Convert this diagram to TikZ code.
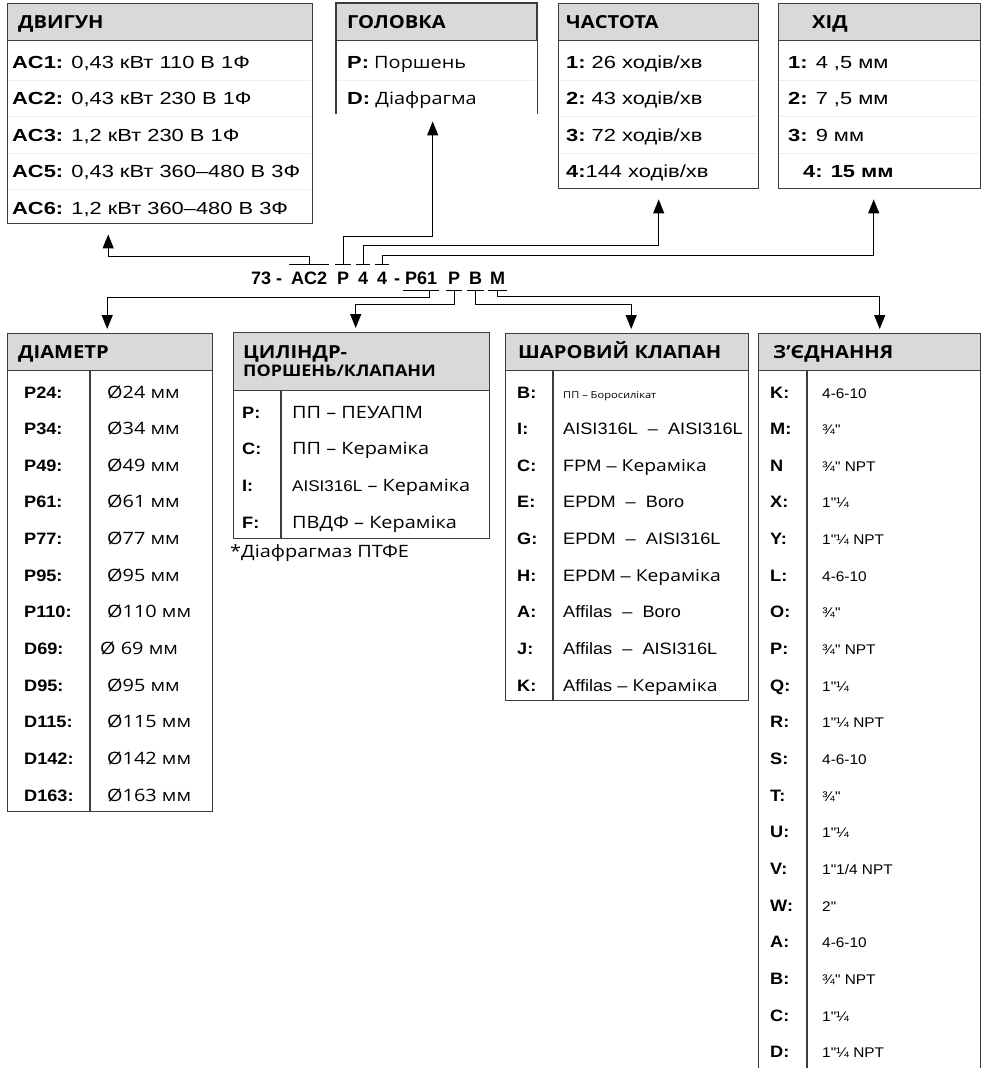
\documentclass[tikz,border=0pt]{standalone}
\usepackage{fontspec}
\setmainfont{Liberation Sans}
\newfontfamily\tsans[FakeStretch=1.25]{Liberation Sans}
\newfontfamily\bsans[FakeStretch=1.1]{Liberation Sans}
\newfontfamily\osans[FakeStretch=1.17]{Open Sans}
\newfontfamily\hsans[FakeStretch=1.12]{Open Sans}
\usetikzlibrary{arrows.meta,calc,positioning}
\definecolor{framegray}{HTML}{3C3C3C}
\definecolor{headgray}{HTML}{D9D9D9}
\definecolor{rulegray}{HTML}{EEEEEE}
\newcommand{\hdfont}{\hsans\bfseries\fontsize{18}{19}\selectfont}
\newcommand{\topkey}{\tsans\bfseries\fontsize{17.5}{20}\selectfont}
\newcommand{\topval}{\tsans\fontsize{17.5}{20}\selectfont}
\newcommand{\osval}{\osans\fontsize{17}{20}\selectfont}
\newcommand{\botkey}{\bsans\bfseries\fontsize{16.5}{19}\selectfont}
\newcommand{\botval}{\bsans\fontsize{16.5}{19}\selectfont}
\newcommand{\connval}{\bsans\fontsize{14}{16}\selectfont}
\newcommand{\codefont}{\bfseries\fontsize{18}{20}\selectfont}
\tikzset{
  boxline/.style={draw=framegray, line width=1.4pt},
  panel/.style={boxline, fill=white, anchor=north west, inner sep=0pt},
  headcell/.style={boxline, fill=headgray, anchor=north west, inner sep=0pt, minimum height=37},
  headtext/.style={anchor=base west, inner sep=0pt, font=\hdfont},
  toprow/.style={anchor=base west, inner sep=0pt, font=\topval},
  osrow/.style={anchor=base west, inner sep=0pt, font=\osval},
  keytext/.style={anchor=base west, inner sep=0pt, font=\botkey},
  valtext/.style={anchor=base west, inner sep=0pt, font=\botval},
  conntext/.style={anchor=base west, inner sep=0pt, font=\connval},
  codepart/.style={anchor=base west, inner xsep=2pt, inner ysep=6pt, text height=13pt, text depth=0pt, font=\codefont},
  bracket/.style={draw=black, line width=1.2pt},
  link/.style={draw=black, line width=1.2pt, -{Triangle[width=11pt,length=14pt]}},
  rowrule/.style={draw=rulegray, line width=0.6pt}
}
\begin{document}
\begin{tikzpicture}[x=1pt,y=-1pt]
  \useasboundingbox (0,0) rectangle (982,1068);
  % top panels
  \node[panel, minimum width=305, minimum height=220] (motor) at (7,3) {};
  \node[headcell, minimum width=305] (motorhd) at (motor.north west) {};
  \node[headtext] (motorti) at (18,28) {ДВИГУН};
  \foreach \y in {80,116.5,153,189.5} \draw[rowrule] (8,\y) -- (311,\y);
  \foreach \k/\v [count=\i from 0] in {AC1:/{0,43 кВт 110 В 1Ф}, AC2:/{0,43 кВт 230 В 1Ф}, AC3:/{1,2 кВт 230 В 1Ф}, AC5:/{0,43 кВт 360–480 В 3Ф}, AC6:/{1,2 кВт 360–480 В 3Ф}}
    \node[toprow] (motor\i) at (12,{68+36.5*\i}) {{\topkey\k} \v};

  \node[panel, draw=none, minimum width=200, minimum height=110] (head) at (336,3) {};
  \draw[boxline] (head.south west) -- (head.north west) -- (head.north east) -- (head.south east);
  \node[headcell, minimum width=200] (headhd) at (head.north west) {};
  \node[headtext] (headti) at (347,28) {ГОЛОВКА};
  \draw[rowrule] (337,80) -- (535,80);
  \foreach \k/\v [count=\i from 0] in {P:/Поршень, D:/Діафрагма}
    \node[osrow] (head\i) at (347,{68+36.5*\i}) {{\topkey\k} \v};

  \node[panel, minimum width=200, minimum height=185] (freq) at (558,3) {};
  \node[headcell, minimum width=200] (freqhd) at (freq.north west) {};
  \node[headtext] (freqti) at (566,28) {ЧАСТОТА};
  \foreach \y in {80,116.5,153} \draw[rowrule] (559,\y) -- (757,\y);
  \foreach \k/\v [count=\i from 0] in {1:/{\ 26 ходів/хв}, 2:/{\ 43 ходів/хв}, 3:/{\ 72 ходів/хв}, 4:/{144 ходів/хв}}
    \node[toprow] (freq\i) at (566,{68+36.5*\i}) {{\topkey\k}\v};

  \node[panel, minimum width=202, minimum height=185] (stroke) at (778,3) {};
  \node[headcell, minimum width=202] (strokehd) at (stroke.north west) {};
  \node[headtext] (strketi) at (812,28) {ХІД};
  \foreach \y in {80,116.5,153} \draw[rowrule] (779,\y) -- (979,\y);
  \foreach \k/\v [count=\i from 0] in {1:/{4 ,5 мм}, 2:/{7 ,5 мм}, 3:/{9 мм}}
    \node[toprow] (stroke\i) at (788,{68+36.5*\i}) {{\topkey\k} \v};
  \node[toprow, font=\topkey] (stroke3) at (803,177.5) {4: 15 мм};

  % code line
  \node[codepart, inner xsep=0pt] (cNum) at (251,284) {73 -};
  \node[codepart] (cMot) at (289,284) {AC2};
  \node[codepart] (cHead) at (335,284) {P};
  \node[codepart] (cFreq) at (356,284) {4};
  \node[codepart] (cStrk) at (375,284) {4};
  \node[codepart] (cDash) at (392,284) {-};
  \node[codepart] (cDiam) at (403,284) {P61};
  \node[codepart] (cCyl) at (446,284) {P};
  \node[codepart] (cValv) at (467,284) {B};
  \node[codepart] (cConn) at (488,284) {M};
  \foreach \n in {cMot,cHead,cFreq,cStrk} \draw[bracket] (\n.north west) -- (\n.north east);
  \foreach \n in {cDiam,cCyl,cValv,cConn} \draw[bracket] (\n.south west) -- (\n.south east);

  % bottom panels
  \node[panel, minimum width=205, minimum height=478] (diam) at (7,333) {};
  \node[headcell, minimum width=205] (diamhd) at (diam.north west) {};
  \node[headtext] (diamti) at (18,358) {ДІАМЕТР};
  \draw[boxline] ([xshift=83]diamhd.south west) -- ([xshift=83]diam.south west);
  \foreach \k/\v [count=\i from 0] in {P24:/Ø24 мм, P34:/Ø34 мм, P49:/Ø49 мм, P61:/Ø61 мм, P77:/Ø77 мм, P95:/Ø95 мм, P110:/Ø110 мм, D69:/{\hspace*{-7pt}Ø 69 мм}, D95:/Ø95 мм, D115:/Ø115 мм, D142:/Ø142 мм, D163:/Ø163 мм}{
    \node[keytext] (diamk\i) at (24,{398+36.65*\i}) {\k};
    \node[osrow] (diamv\i) at (107,{398+36.65*\i}) {\v};
  }

  \node[panel, minimum width=256, minimum height=206] (cyl) at (233,332) {};
  \node[headcell, minimum width=256, minimum height=58] (cylhd) at (cyl.north west) {};
  \node[headtext] (cylti) at (243,358) {ЦИЛІНДР-};
  \node[headtext, font=\hsans\bfseries\fontsize{16}{18}\selectfont] (cylsub) at (243,376) {ПОРШЕНЬ/КЛАПАНИ};
  \draw[boxline] ([xshift=48]cylhd.south west) -- ([xshift=48]cyl.south west);
  \foreach \k/\v [count=\i from 0] in {P:/{ПП – ПЕУАПМ}, C:/{ПП – Кераміка}, I:/{{\bsans\fontsize{15.5}{18}\selectfont AISI316L} – Кераміка}, F:/{ПВДФ – Кераміка}}{
    \node[keytext] (cylk\i) at (242,{418+36.7*\i}) {\k};
    \node[osrow] (cylv\i) at (292,{418+36.7*\i}) {\v};
  }
  \node[osrow] (note) at (230,557) {*Діафрагмаз ПТФЕ};

  \node[panel, minimum width=243, minimum height=367] (valve) at (505,333) {};
  \node[headcell, minimum width=243] (valvehd) at (valve.north west) {};
  \node[headtext] (valveti) at (518,358) {ШАРОВИЙ КЛАПАН};
  \draw[boxline] ([xshift=48]valvehd.south west) -- ([xshift=48]valve.south west);
  \foreach \k/\v [count=\i from 0] in {B:/{\osans\fontsize{9.5}{12}\selectfont ПП – Боросилікат}, I:/{AISI316L \ – \ AISI316L}, C:/{FPM – {\osans Кераміка}}, E:/{EPDM \ – \ Boro}, G:/{EPDM \ – \ AISI316L}, H:/{EPDM – {\osans Кераміка}}, A:/{Affilas \ – \ Boro}, J:/{Affilas \ – \ AISI316L}, K:/{Affilas – {\osans Кераміка}}}{
    \node[keytext] (valvek\i) at (517,{398+36.65*\i}) {\k};
    \node[valtext] (valvev\i) at (563,{398+36.65*\i}) {\v};
  }

  \node[panel, minimum width=222, minimum height=745] (conn) at (758,333) {};
  \node[headcell, minimum width=222] (connhd) at (conn.north west) {};
  \node[headtext] (connti) at (773,358) {З’ЄДНАННЯ};
  \draw[boxline] ([xshift=49]connhd.south west) -- ([xshift=49]conn.south west);
  \foreach \k/\v [count=\i from 0] in {K:/4-6-10, M:/{¾"}, N/{¾" NPT}, X:/{1"¼}, Y:/{1"¼ NPT}, L:/4-6-10, O:/{¾"}, P:/{¾" NPT}, Q:/{1"¼}, R:/{1"¼ NPT}, S:/4-6-10, T:/{¾"}, U:/{1"¼}, V:/{1"1/4 NPT}, W:/{2"}, A:/4-6-10, B:/{¾" NPT}, C:/{1"¼}, D:/{1"¼ NPT}}{
    \node[keytext] (connk\i) at (770,{398+36.65*\i}) {\k};
    \node[conntext] (connv\i) at (822,{398+36.65*\i}) {\v};
  }

  % connectors
  \draw[link, shorten >=10pt] (cMot.north) -- ++(0,-8) -| ([xshift=-52]motor.south);
  \draw[link, shorten >=7pt] (cHead.north) -- ++(0,-28) -| ([xshift=-4]head.south);
  \draw[link, shorten >=10pt] (cFreq.north) -- ++(0,-19) -| (freq.south);
  \draw[link, shorten >=10pt] (cStrk.north) -- ++(0,-9) -| ([xshift=-6]stroke.south);
  \draw[link, shorten >=4pt] ([xshift=8]cDiam.south) -- ++(0,7) -| ([xshift=-3]diam.north);
  \draw[link, shorten >=4pt] (cCyl.south) -- ++(0,14) -| ([xshift=-6]cyl.north);
  \draw[link, shorten >=4pt] (cValv.south) -- ++(0,14) -| ([xshift=4]valve.north);
  \draw[link, shorten >=4pt] (cConn.south) -- ++(0,6) -| ([xshift=10]conn.north);
\end{tikzpicture}
\end{document}
